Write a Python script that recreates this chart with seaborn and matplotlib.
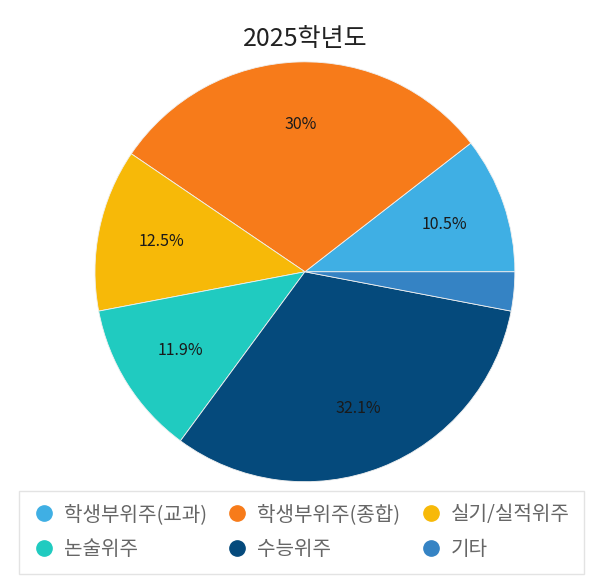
import matplotlib
matplotlib.use("Agg")
import matplotlib.pyplot as plt
import seaborn as sns
import numpy as np
from matplotlib.lines import Line2D

# 데이터
categorias = ["학생부위주(교과)", "학생부위주(종합)", "실기/실적위주", "논술위주", "수능위주", "기타"]
valores = [10.5, 30.0, 12.5, 11.9, 32.1, 3.0]
rotulos = ["10.5%", "30%", "12.5%", "11.9%", "32.1%", ""]
cores = ["#3fafe4", "#f77b1a", "#f7b908", "#20cbc0", "#054a7c", "#3583c4"]
titulo = "2025학년도"

sns.set_style("white")
plt.rcParams["font.family"] = ["Noto Sans CJK KR", "DejaVu Sans"]
paleta = sns.color_palette(cores)

fig = plt.figure(figsize=(6.05, 5.87), dpi=100)
ax = fig.add_axes([0.157, 0.179, 0.694, 0.716])

fatias, _ = ax.pie(valores, colors=paleta, startangle=0, counterclock=True,
                   wedgeprops=dict(edgecolor="#f0f0f0", linewidth=0.6))
ax.set_xlim(-1, 1)
ax.set_ylim(-1, 1)
ax.set_aspect("equal")

# rótulos das fatias
inicio = 0.0
total = sum(valores)
for v, r in zip(valores, rotulos):
    meio = np.deg2rad(inicio + v / total * 180)
    inicio += v / total * 360
    if r:
        ax.text(0.7 * np.cos(meio), 0.7 * np.sin(meio), r, ha="center", va="center",
                fontsize=11.5, color="#1a1a1a")

fig.text(0.504, 0.934, titulo, ha="center", va="center", fontsize=18, color="#222222")

# legenda em linhas (ordem por linha)
ordem = [0, 3, 1, 4, 2, 5]
handles = [Line2D([0], [0], marker="o", linestyle="", markersize=11,
                  markerfacecolor=paleta[i], markeredgecolor=paleta[i]) for i in ordem]
nomes = [categorias[i] for i in ordem]
leg = fig.legend(handles, nomes, ncol=3, loc="center",
                 bbox_to_anchor=(0.498, 0.093), fontsize=14.5, frameon=True,
                 fancybox=False, edgecolor="#dddddd", labelcolor="#666666",
                 handletextpad=0.45, columnspacing=0.95, borderpad=0.68,
                 labelspacing=0.7, handlelength=1.1)
leg.get_frame().set_linewidth(1.0)

fig.savefig("out.png", dpi=100)
